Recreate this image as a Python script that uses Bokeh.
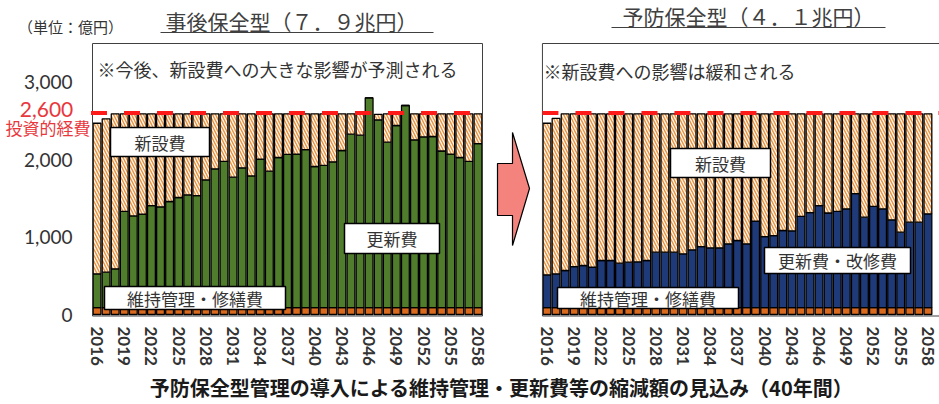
import pandas as pd
from bokeh.plotting import figure
from bokeh.models import ColumnDataSource, Range1d, FixedTicker, NumeralTickFormatter, Label
from bokeh.core.properties import value
from bokeh.embed import file_html
from bokeh.resources import INLINE

# ---------------- data ----------------
years = list(range(2016, 2059))
tick_years = list(range(2016, 2059, 3))
budget = 2600
y_ticks = [0, 1000, 2000, 3000]

# 事後保全型 (reactive)
maint_reactive = [90, 90, 90, 90, 90, 90, 90, 90, 90, 90, 90, 90, 90, 90, 90,
                  90, 90, 90, 90, 90, 90, 90, 90, 90, 90, 90, 90, 90, 90, 90,
                  90, 90, 90, 90, 90, 90, 90, 90, 90, 90, 90, 90, 90]
renew_reactive = [435, 456, 500, 1240, 1182, 1206, 1315, 1300, 1368, 1420, 1454, 1443,
                  1648, 1790, 1886, 1682, 1803, 1698, 1915, 1759, 1936, 1975, 1980, 2037,
                  1820, 1833, 1880, 2026, 2237, 2224, 2706, 2422, 2134, 2349, 2607, 2164,
                  2203, 2207, 2020, 1980, 1936, 1886, 2116]
new_reactive = [1943, 1979, 2000, 1260, 1318, 1294, 1185, 1200, 1132, 1080, 1046, 1057,
                852, 710, 614, 818, 697, 802, 585, 741, 564, 525, 520, 463,
                680, 667, 620, 474, 263, 276, 0, 70, 366, 151, 0, 336,
                297, 293, 480, 520, 564, 614, 384]

# 予防保全型 (preventive)
maint_prevent = [90, 90, 90, 90, 90, 90, 90, 90, 90, 90, 90, 90, 90, 90, 90,
                 90, 90, 90, 90, 90, 90, 90, 90, 90, 90, 90, 90, 90, 90, 90,
                 90, 90, 90, 90, 90, 90, 90, 90, 90, 90, 90, 90, 90]
renew_prevent = [422, 435, 478, 529, 542, 520, 607, 607, 572, 585, 590, 607, 714, 714,
                 714, 693, 745, 787, 770, 770, 822, 865, 822, 1115, 916, 929, 994, 990,
                 1176, 1225, 1316, 1220, 1241, 1273, 1470, 1166, 1304, 1273, 1132, 972,
                 1101, 1101, 1209]
new_prevent = [1956, 2005, 2022, 1971, 1958, 1980, 1893, 1893, 1928, 1915, 1910, 1893,
               1786, 1786, 1786, 1807, 1755, 1713, 1730, 1730, 1678, 1635, 1678, 1385,
               1584, 1571, 1506, 1510, 1324, 1275, 1184, 1280, 1259, 1227, 1030, 1334,
               1196, 1227, 1368, 1528, 1399, 1399, 1291]

# ---------------- layout helpers (picture pixel -> data) ----------------
U = (482 - 92) / 43.0      # px per year
S = 0.0775                 # px per 億円
def X(px):
    return -0.5 + (px - 92) / U
def Y(py):
    return (314 - py) / S

OFFSET = round(X(546.5), 2)   # x offset of second panel
JP = "Noto Sans CJK JP"
NUM = "Lato"
TXT = "#333333"

p = figure(width=939, height=404, output_backend="svg", toolbar_location=None,
           x_range=Range1d(X(0), X(939)), y_range=Range1d(Y(404), Y(0)),
           min_border_left=0, min_border_right=0, min_border_top=0,
           min_border_bottom=0, title=None)
p.outline_line_color = None
p.grid.visible = False
p.background_fill_color = "white"

def stack_source(maint, renew, new, off):
    df = pd.DataFrame({"year": years, "m": maint, "r": renew, "n": new})
    df["x"] = [i + off for i in range(len(years))]
    df["m_top"] = df["m"]
    df["r_top"] = df["m"] + df["r"]
    df["n_top"] = df["r_top"] + df["n"]
    return ColumnDataSource(df)

src_l = stack_source(maint_reactive, renew_reactive, new_reactive, 0)
src_r = stack_source(maint_prevent, renew_prevent, new_prevent, OFFSET)

W = 0.86
for src, col in ((src_l, "#4F7D2C"), (src_r, "#1F3A78")):
    p.vbar(x="x", bottom=0, top="m_top", width=W, source=src,
           fill_color="#D9691C", line_color="black", line_width=1.3)
    p.vbar(x="x", bottom="m_top", top="r_top", width=W, source=src,
           fill_color=col, line_color="black", line_width=1.3)
    p.vbar(x="x", bottom="r_top", top="n_top", width=W, source=src,
           fill_color="#FFF7EE", hatch_pattern="\\", hatch_color="#E8903C",
           hatch_scale=6, hatch_weight=1.4, line_color="black", line_width=1.3)

# frames
p.quad(left=[X(92), OFFSET - 0.5], right=[42.5, X(945)],
       bottom=[Y(315.5)] * 2, top=[Y(43)] * 2,
       fill_color=None, line_color="#404040", line_width=1)

# investment budget line
p.segment(x0=[X(90.5), OFFSET - 0.5], x1=[42.5, X(939)],
          y0=[budget, budget], y1=[budget, budget],
          line_color="#FF1A1A", line_width=4, line_dash="16 17")

# label boxes
boxes = [
    (110, 209, 127, 156, "新設費"),
    (104, 285, 286, 309, "維持管理・修繕費"),
    (344, 439, 223, 253, "更新費"),
    (670, 770, 148, 177, "新設費"),
    (764, 910, 247, 273, "更新費・改修費"),
    (557, 738, 287, 308, "維持管理・修繕費"),
]
p.quad(left=[X(b[0]) for b in boxes], right=[X(b[1]) for b in boxes],
       top=[Y(b[2]) for b in boxes], bottom=[Y(b[3]) for b in boxes],
       fill_color="white", line_color="black", line_width=1.5)
p.text(x=[X((b[0] + b[1]) / 2) for b in boxes], y=[Y((b[2] + b[3]) / 2) for b in boxes],
       text=[b[4] for b in boxes], text_font=value(JP), text_font_size="17px",
       text_color=TXT, text_align="center", text_baseline="middle")

# notes in frames
p.text(x=[X(97), X(543)], y=[Y(68.5), Y(70)],
       text=["※今後、新設費への大きな影響が予測される", "※新設費への影響は緩和される"],
       text_font=value(JP), text_font_size="18px", text_color=TXT,
       text_align="left", text_baseline="middle")

# panel titles
p.text(x=[X(291), X(748)], y=[Y(20), Y(15)],
       text=["事後保全型（７．９兆円）", "予防保全型（４．１兆円）"],
       text_font=value(JP), text_font_size="21px", text_color="#404040",
       text_align="center", text_baseline="middle")
p.segment(x0=[X(160), X(611)], x1=[X(433), X(885)], y0=[Y(32), Y(27)], y1=[Y(32), Y(27)],
          line_color="#404040", line_width=1.2)

# arrow
ax = [497, 512, 512, 529, 512, 512, 497]
ay = [163, 163, 132, 188, 245, 215, 215]
p.patch(x=[X(v) for v in ax], y=[Y(v) for v in ay], fill_color="#F4837D",
        line_color="black", line_width=1.2)

# other labels
p.add_layout(Label(x=X(70), y=Y(26), text="（単位：億円）", text_font=JP,
                   text_font_size="15px", text_color=TXT, text_align="center",
                   text_baseline="middle"))
p.add_layout(Label(x=X(46), y=Y(108.5), text="2,600", text_font=NUM,
                   text_font_size="21px", text_color="#E8383D", text_align="center",
                   text_baseline="middle"))
p.add_layout(Label(x=X(47.5), y=Y(126.5), text="投資的経費", text_font=JP,
                   text_font_size="17px", text_color="#E8383D", text_align="center",
                   text_baseline="middle"))
p.add_layout(Label(x=X(501), y=Y(387),
                   text="予防保全型管理の導入による維持管理・更新費等の縮減額の見込み（40年間）",
                   text_font=JP, text_font_size="20px", text_font_style="bold",
                   text_color="#1a1a1a", text_align="center", text_baseline="middle"))

# axes (drawn at fixed locations inside the canvas)
p.yaxis.fixed_location = X(92)
p.yaxis.ticker = FixedTicker(ticks=y_ticks)
p.yaxis.formatter = NumeralTickFormatter(format="0,0")
p.yaxis.axis_line_color = None
p.yaxis.major_tick_line_color = None
p.yaxis.minor_tick_line_color = None
p.yaxis.major_tick_out = 0
p.yaxis.major_tick_in = 0
p.yaxis.major_label_standoff = 20
p.yaxis.major_label_text_font = NUM
p.yaxis.major_label_text_font_size = "19px"
p.yaxis.major_label_text_color = TXT

xt, xl = [], {}
for off in (0, OFFSET):
    for yr in tick_years:
        pos = years.index(yr) + off
        xt.append(pos)
        xl[pos] = str(yr)
p.xaxis.fixed_location = Y(316)
p.xaxis.ticker = FixedTicker(ticks=xt)
p.xaxis.major_label_overrides = xl
p.xaxis.major_label_orientation = "vertical"
p.xaxis.axis_line_color = None
p.xaxis.major_tick_line_color = None
p.xaxis.minor_tick_line_color = None
p.xaxis.major_tick_out = 0
p.xaxis.major_tick_in = 0
p.xaxis.major_label_standoff = 10
p.xaxis.major_label_text_font = NUM
p.xaxis.major_label_text_font_style = "bold"
p.xaxis.major_label_text_font_size = "17px"
p.xaxis.major_label_text_color = TXT

open("out.html", "w").write(file_html(p, INLINE))
